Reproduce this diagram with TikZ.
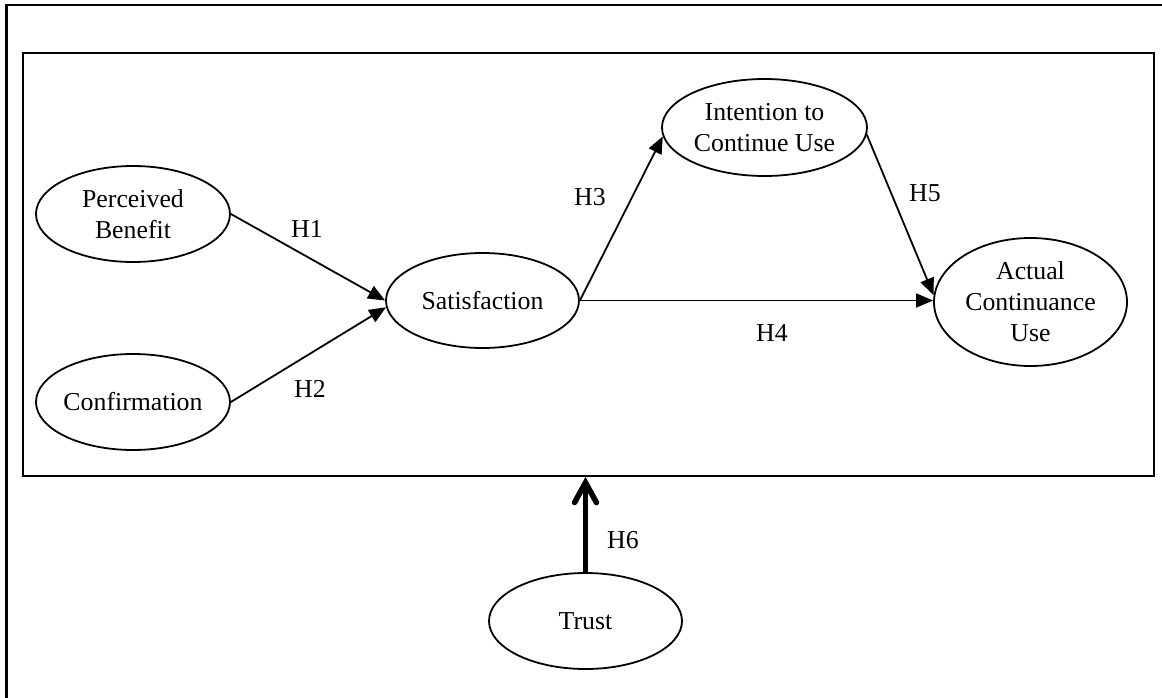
\documentclass[tikz,border=0pt]{standalone}
\usepackage{fontspec}
\setmainfont{Liberation Serif}
\usetikzlibrary{shapes.geometric,arrows.meta,calc}
\begin{document}
\begin{tikzpicture}[x=1pt,y=-1pt,
  every node/.style={font=\fontsize{25.8}{31}\selectfont},
  construct/.style={draw, ellipse, line width=1.8pt, inner sep=0pt, align=center,
    minimum width=194pt, minimum height=96pt},
  path/.style={line width=1.8pt, -{Triangle[length=17pt,width=14pt]}},
  hyp/.style={inner sep=0pt},
  strong/.style={line width=5.5pt, -{Straight Barb[length=20pt,width=22pt,line cap=round]}}]
\useasboundingbox (0,0) rectangle (1162,698);
\fill[white] (0,0) rectangle (1162,698);
% outer frame (only top and left edges are visible)
\draw[line width=2.4pt] (6.5,720) -- (6.5,5) -- (1180,5);
% inner frame
\node[draw, line width=1.9pt, minimum width=1131pt, minimum height=423pt, anchor=north west, inner sep=0pt] (frame) at (22,52) {};
% constructs
\node[construct] (pb) at (133,214) {Perceived\\Benefit};
\node[construct] (conf) at (133,402) {\makebox[0pt]{Confirmation}};
\node[construct, minimum width=193pt, minimum height=95pt] (sat) at (482.5,300.5) {Satisfaction};
\node[construct, minimum width=205pt, minimum height=97pt] (int) at (764.5,127.5) {Intention to\\Continue Use};
\node[construct, minimum width=193pt, minimum height=128pt] (act) at (1030.5,302) {Actual\\Continuance\\Use};
\node[construct, minimum width=193pt, minimum height=96pt] (trust) at (585.5,621) {Trust};
% paths
\draw[path] (pb.east) -- (sat.180);
\draw[path] (conf.east) -- (sat.184.5);
\draw[path] (sat.east) -- (int.185);
\draw[path] (sat.east) -- (sat.east -| act.west);
\draw[path] (int.356) -- (act.176);
\draw[strong] (trust.north) -- (trust.north |- frame.south);
% hypothesis labels
\node[hyp] (h1) at (307,229) {H1};
\node[hyp] (h2) at (310,389) {H2};
\node[hyp] (h3) at (590,197) {H3};
\node[hyp] (h4) at (772,333) {H4};
\node[hyp] (h5) at (925,193) {H5};
\node[hyp] (h6) at (623,540) {H6};
\end{tikzpicture}
\end{document}
